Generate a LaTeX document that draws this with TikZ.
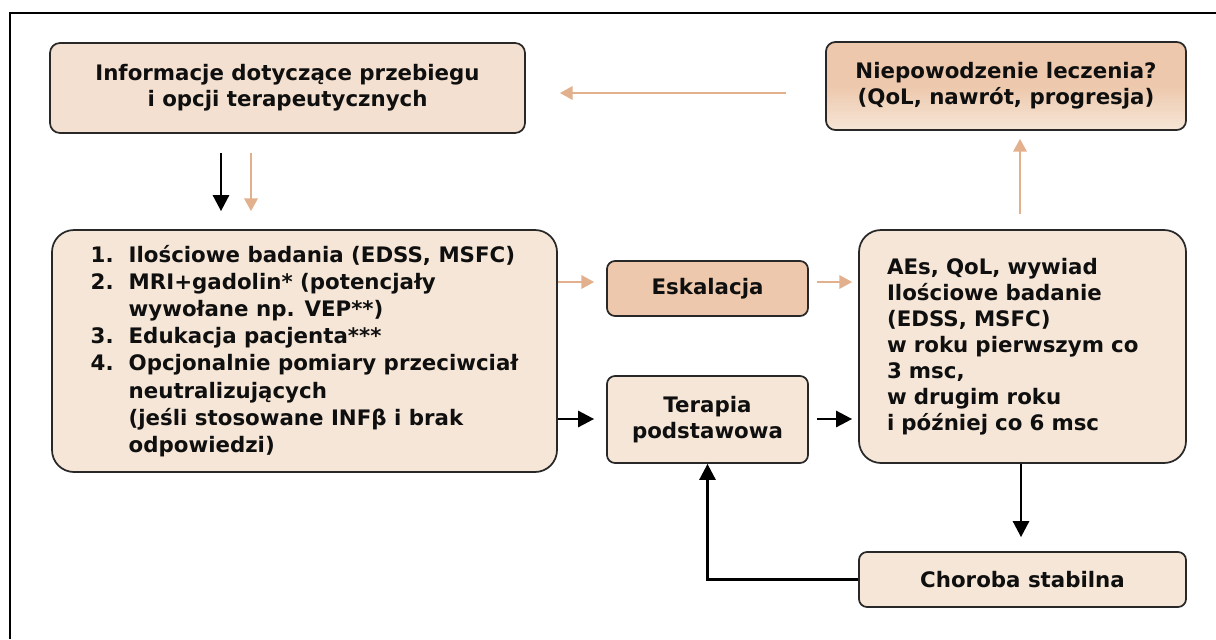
\documentclass[tikz,border=0pt]{standalone}
\usepackage{fontspec}
\setmainfont{DejaVu Sans}
\usetikzlibrary{arrows.meta,calc}
\definecolor{oline}{RGB}{226,176,140}
\definecolor{lightfill}{RGB}{246,230,215}
\definecolor{infofill}{RGB}{243,224,208}
\definecolor{darkfill}{RGB}{237,200,172}
\definecolor{edge}{RGB}{40,40,40}
\definecolor{txt}{RGB}{15,15,15}
\tikzset{
  box/.style={draw=edge, line width=1.3pt, inner sep=0pt, text=txt,
    font=\fontsize{16}{19.5}\selectfont\bfseries, align=center},
  barr/.style={draw=black, line width=2pt, -{Triangle[length=12pt,width=12pt]}},
  oarr/.style={draw=oline, line width=1.5pt, -{Triangle[length=9.5pt,width=10pt]}},
  frameline/.style={draw=black, line width=1.1pt}
}
\begin{document}
\begin{tikzpicture}[x=0.75pt, y=-0.75pt]
\useasboundingbox (0,0) rectangle (1216,639);
\draw[frameline] (1216,13) -- (10,13) -- (10,639);

\node[box, fill=infofill, rounded corners=7.5pt, minimum width=356.25pt, minimum height=67.5pt]
  (info) at (287.5,88) {Informacje dotyczące przebiegu\\i opcji terapeutycznych};
\node[box, top color=darkfill, bottom color=lightfill, middle color=darkfill, rounded corners=7pt,
  minimum width=270pt, minimum height=66pt]
  (niep) at (1006,86) {Niepowodzenie leczenia?\\(QoL, nawrót, progresja)};
\node[box, fill=lightfill, rounded corners=16.5pt, minimum width=378.75pt, minimum height=181.5pt, align=left,
  font=\fontsize{16}{20.4}\selectfont\bfseries]
  (list) at (304.5,351) {\makebox[28.5pt][l]{1.}Ilościowe badania (EDSS, MSFC)\\
  \makebox[28.5pt][l]{2.}MRI+gadolin* (potencjały\\
  \hspace*{28.5pt}wywołane np. VEP**)\\
  \makebox[28.5pt][l]{3.}Edukacja pacjenta***\\
  \makebox[28.5pt][l]{4.}Opcjonalnie pomiary przeciwciał\\
  \hspace*{28.5pt}neutralizujących\\
  \hspace*{28.5pt}(jeśli stosowane INFβ i brak\\
  \hspace*{28.5pt}odpowiedzi)};
\node[box, fill=darkfill, rounded corners=6pt, minimum width=150.75pt, minimum height=41.25pt]
  (esk) at (707.5,288.5) {Eskalacja};
\node[box, fill=lightfill, rounded corners=6pt, minimum width=150.75pt, minimum height=65.25pt]
  (ter) at (707.5,419.5) {Terapia\\podstawowa};
\node[box, fill=lightfill, rounded corners=16.5pt, inner xsep=21pt, text width=203.25pt,
  minimum height=174.75pt, align=left]
  (aes) at (1022.5,346.5) {AEs, QoL, wywiad\\Ilościowe badanie\\(EDSS, MSFC)\\w roku pierwszym co\\3 msc,\\w drugim roku\\i później co 6 msc\\[12pt]};
\node[box, fill=lightfill, rounded corners=6pt, minimum width=245.25pt, minimum height=41.25pt]
  (chor) at (1022.5,579.5) {Choroba stabilna};

% connectors
\draw[oarr, shorten <=29.25pt, shorten >=25.5pt] (niep.west |- 0,93) -- (info.east |- 0,93);
\draw[barr, shorten <=14.25pt, shorten >=13.5pt] (info.south -| 221,0) -- (list.north -| 221,0);
\draw[oarr, shorten <=14.25pt, shorten >=13.5pt] (info.south -| 251,0) -- (list.north -| 251,0);
\draw[oarr, shorten >=9pt] (list.east |- 0,282) -- (esk.west |- 0,282);
\draw[oarr, shorten <=6pt, shorten >=4.5pt] (esk.east |- 0,282) -- (aes.west |- 0,282);
\draw[barr, shorten >=9pt] (list.east |- 0,419) -- (ter.west |- 0,419);
\draw[barr, shorten <=6pt, shorten >=4.5pt] (ter.east |- 0,419) -- (aes.west |- 0,419);
\draw[oarr, shorten <=11.25pt, shorten >=6pt] (aes.north -| 1020,0) -- (niep.south -| 1020,0);
\draw[barr, shorten >=10.5pt] (aes.south -| 1021,0) -- (chor.north -| 1021,0);
\draw[barr] (chor.west) -| (ter.south);
\end{tikzpicture}
\end{document}
